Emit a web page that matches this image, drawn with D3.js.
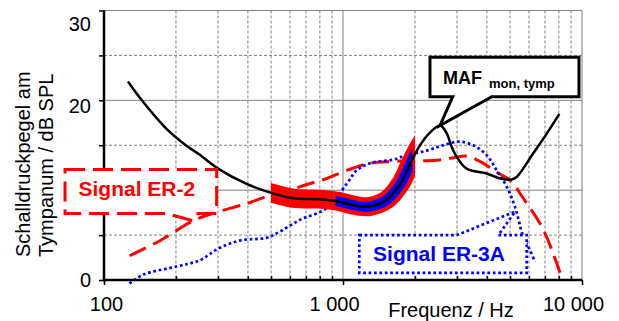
<!DOCTYPE html>
<html>
<head>
<meta charset="utf-8">
<script src="https://cdn.jsdelivr.net/npm/d3@7"></script>
<style>
  body { margin: 0; background: #fff; }
  svg { display: block; font-family: 'Liberation Sans', Arial, sans-serif; }
</style>
</head>
<body>
<div id="chart"></div>
<script>
// frequency axis (Hz), log scale
const freqMajor = [100, 1000, 10000];
const freqMinor = [200, 300, 400, 500, 600, 700, 800, 900, 2000, 3000, 4000, 5000, 6000, 7000, 8000, 9000];
const freqLabels = ['100', '1 000', '10 000'];

// level axis (dB SPL); the 10 label is hidden behind the ER-2 box in the original
const levelTicks = [0, 5, 10, 15, 20, 25, 30];
const levelMajor = [10, 20];
const levelMinor = [5, 15, 25];
const levelLabels = [0, 20, 30];

// MAF mon,tymp (black)
const mafFreq = [126, 144, 180, 220, 250, 300, 395, 500, 620, 800, 930, 1180, 1300, 1520, 1730, 1900, 2000, 2100, 2310, 2550, 2720, 2850, 2990, 3290, 3990, 4540, 5080, 5340, 6250, 7120, 8040];
const mafLevel = [22.1, 20.0, 17.0, 15.0, 14.0, 12.4, 10.7, 9.7, 9.1, 9.0, 8.8, 8.2, 8.2, 8.9, 10.6, 12.8, 14.0, 15.0, 16.4, 17.2, 16.3, 14.8, 13.7, 12.4, 11.85, 11.3, 11.2, 11.5, 14.1, 16.3, 18.5];

// Signal ER-2 (red dashed)
const er2Freq = [128, 172, 236, 301, 395, 479, 600, 700, 855, 1036, 1297, 1624, 1970, 2387, 2894, 3293, 3805, 4396, 5000, 5680, 6890, 8090];
const er2Level = [2.7, 4.4, 6.6, 7.6, 8.5, 9.3, 10.0, 10.6, 11.3, 12.2, 13.0, 13.2, 13.3, 13.3, 13.6, 13.8, 13.1, 12.0, 11.1, 9.1, 5.6, 0.8];

// Signal ER-3A (blue dotted)
const er3Freq = [128, 146, 201, 252, 301, 371, 479, 545, 661, 855, 1036, 1141, 1297, 1624, 1848, 2240, 2630, 3040, 3510, 3990, 4400, 4840, 5250, 5680, 6060, 6360];
const er3Level = [-0.4, 0.6, 1.5, 2.2, 3.5, 4.4, 4.7, 5.4, 6.7, 8.0, 10.7, 12.2, 13.0, 13.4, 13.9, 14.4, 15.0, 15.4, 15.0, 13.9, 12.2, 10.4, 8.1, 4.8, 3.3, 2.0];

// frequency ranges of the highlighted bands on the MAF curve
const redBand = [500, 2000];
const blueBand = [930, 1950];

const W = 619, H = 321;

const svg = d3.select('#chart').append('svg')
  .attr('width', W)
  .attr('height', H);

const x = d3.scaleLog().domain([100, 10000]).range([104, 582]);
const y = d3.scaleLinear().domain([0, 30]).range([280, 10.5]);

const grey = '#808080';

// Grid
const grid = svg.append('g');
grid.selectAll('.vmin').data(freqMinor).enter().append('line')
  .attr('x1', d => x(d)).attr('x2', d => x(d))
  .attr('y1', y(30)).attr('y2', y(0))
  .attr('stroke', grey).attr('stroke-width', 1).attr('stroke-dasharray', '3,2');
grid.selectAll('.hmin').data(levelMinor).enter().append('line')
  .attr('x1', x(100)).attr('x2', x(10000))
  .attr('y1', d => y(d)).attr('y2', d => y(d))
  .attr('stroke', grey).attr('stroke-width', 1).attr('stroke-dasharray', '3,2');
grid.selectAll('.vmaj').data(freqMajor.slice(1)).enter().append('line')
  .attr('x1', d => x(d)).attr('x2', d => x(d))
  .attr('y1', y(30)).attr('y2', y(0))
  .attr('stroke', grey).attr('stroke-width', 1);
grid.selectAll('.hmaj').data(levelMajor.concat([30])).enter().append('line')
  .attr('x1', x(100)).attr('x2', x(10000))
  .attr('y1', d => y(d)).attr('y2', d => y(d))
  .attr('stroke', grey).attr('stroke-width', 1);

const zip = (fs, vs) => fs.map((f, i) => [f, vs[i]]);
const line = d3.line()
  .x(d => x(d[0]))
  .y(d => y(d[1]))
  .curve(d3.curveCatmullRom.alpha(0.5));

const maf = zip(mafFreq, mafLevel);

// Signal ER-2
svg.append('path')
  .attr('d', line(zip(er2Freq, er2Level)))
  .attr('fill', 'none')
  .attr('stroke', '#ff0000')
  .attr('stroke-width', 3)
  .attr('stroke-dasharray', '18,8');

// Signal ER-3A
svg.append('path')
  .attr('d', line(zip(er3Freq, er3Level)))
  .attr('fill', 'none')
  .attr('stroke', '#0000ff')
  .attr('stroke-width', 2.7)
  .attr('stroke-dasharray', '2.7,2.7');

// Bands along the MAF curve, cut to their frequency range
const defs = svg.append('defs');
[['clip-red', redBand], ['clip-blue', blueBand]].forEach(([id, r]) => {
  defs.append('clipPath').attr('id', id)
    .append('rect')
    .attr('x', x(r[0])).attr('width', x(r[1]) - x(r[0]))
    .attr('y', 0).attr('height', H);
});

svg.append('path')
  .attr('d', line(maf))
  .attr('clip-path', 'url(#clip-red)')
  .attr('fill', 'none')
  .attr('stroke', '#ff0000')
  .attr('stroke-width', 19);

svg.append('path')
  .attr('d', line(maf))
  .attr('clip-path', 'url(#clip-blue)')
  .attr('fill', 'none')
  .attr('stroke', '#0000ff')
  .attr('stroke-width', 10);

// MAF
svg.append('path')
  .attr('d', line(maf))
  .attr('fill', 'none')
  .attr('stroke', '#000')
  .attr('stroke-width', 2.5);

// Axes
const labelFont = 20;

const xAxis = svg.append('g')
  .attr('transform', `translate(0,${y(0)})`)
  .call(d3.axisBottom(x).tickValues(freqMajor).tickSize(5).tickPadding(12)
    .tickFormat((d, i) => freqLabels[i]));
xAxis.select('.domain').remove();
xAxis.selectAll('.tick line').attr('stroke', '#000').attr('stroke-width', 1.5);
xAxis.selectAll('text')
  .attr('fill', '#000')
  .style('font-size', labelFont + 'px')
  .attr('dx', d => d === 100 ? 2 : -9);

const xMinor = svg.append('g')
  .attr('transform', `translate(0,${y(0)})`)
  .call(d3.axisBottom(x).tickValues(freqMinor).tickSize(-4).tickFormat(''));
xMinor.select('.domain').remove();
xMinor.selectAll('.tick line').attr('stroke', '#000').attr('stroke-width', 1.5);

const yAxis = svg.append('g')
  .attr('transform', `translate(${x(100)},0)`)
  .call(d3.axisLeft(y).tickValues(levelTicks).tickSize(5).tickPadding(8)
    .tickFormat(d => levelLabels.includes(d) ? d : ''));
yAxis.select('.domain').remove();
yAxis.selectAll('.tick line').attr('stroke', '#000').attr('stroke-width', 1.5);
yAxis.selectAll('text')
  .attr('fill', '#000')
  .style('font-size', labelFont + 'px')
  .attr('transform', d => `translate(0,${[0, 3, 6, 13.5][d / 10] || 0})`);

// thick axis lines
svg.append('line')
  .attr('x1', x(100)).attr('x2', x(100))
  .attr('y1', y(30)).attr('y2', y(0) + 1.2)
  .attr('stroke', '#000').attr('stroke-width', 2.5);
svg.append('line')
  .attr('x1', x(100) - 1.2).attr('x2', x(10000))
  .attr('y1', y(0)).attr('y2', y(0))
  .attr('stroke', '#000').attr('stroke-width', 2.5);

// Axis titles
svg.append('text')
  .attr('x', 451).attr('y', 317)
  .attr('text-anchor', 'middle')
  .style('font-size', labelFont + 'px')
  .text('Frequenz / Hz');

const yTitle = svg.append('text')
  .attr('transform', 'translate(30,257) rotate(-90)')
  .attr('text-anchor', 'start')
  .style('font-size', labelFont + 'px');
yTitle.append('tspan').attr('x', 0).attr('dy', 0).text('Schalldruckpegel am');
yTitle.append('tspan').attr('x', 0).attr('dy', 23).text('Tympanum / dB SPL');

// Callout boxes, in data coordinates
const callouts = [
  {
    box: [68.7, 296, 12.3, 7.4], side: 'bottom', base: [183, 247], tip: [236, 6.6],
    stroke: '#ff0000', dash: '20,8', width: 3,
    text: 'Signal ER-2'
  },
  {
    box: [1170, 5870, 5.0, 0.8], side: 'top', base: [2990, 4467], tip: [5245, 7.6],
    stroke: '#0000ff', dash: '2.7,2.7', width: 2.7,
    text: 'Signal ER-3A'
  },
  {
    box: [2312, 9714, 24.8, 20.4], side: 'bottom', base: [2877, 4190], tip: [2546, 17.2],
    stroke: '#000', dash: null, width: 3,
    text: null
  }
];

callouts.forEach(c => {
  const x0 = x(c.box[0]), x1 = x(c.box[1]);
  const y0 = y(c.box[2]), y1 = y(c.box[3]);
  const bl = x(c.base[0]), br = x(c.base[1]);
  const tx = x(c.tip[0]), ty = y(c.tip[1]);
  const p = d3.path();
  if (c.side === 'top') {
    p.moveTo(x0, y0); p.lineTo(bl, y0); p.lineTo(tx, ty); p.lineTo(br, y0);
    p.lineTo(x1, y0); p.lineTo(x1, y1); p.lineTo(x0, y1); p.closePath();
  } else {
    p.moveTo(x0, y0); p.lineTo(x1, y0); p.lineTo(x1, y1); p.lineTo(br, y1);
    p.lineTo(tx, ty); p.lineTo(bl, y1); p.lineTo(x0, y1); p.closePath();
  }
  svg.append('path')
    .attr('d', p.toString())
    .attr('fill', '#fff')
    .attr('stroke', c.stroke)
    .attr('stroke-width', c.width)
    .attr('stroke-dasharray', c.dash)
    .attr('stroke-linejoin', 'miter');
  if (c.text) {
    svg.append('text')
      .attr('x', (x0 + x1) / 2 - 4)
      .attr('y', y0 + 26)
      .attr('text-anchor', 'middle')
      .attr('fill', c.stroke)
      .style('font-size', '21px')
      .style('font-weight', 'bold')
      .text(c.text);
  }
});

// MAF label with subscript
const mafBox = callouts[2];
const maf_t = svg.append('text')
  .attr('x', x(mafBox.box[0]) + 13)
  .attr('y', y(mafBox.box[2]) + 26.5)
  .style('font-weight', 'bold');
maf_t.append('tspan').style('font-size', '18px').text('MAF');
maf_t.append('tspan').attr('dx', 7).attr('dy', 4).style('font-size', '13px').text('mon, tymp');
</script>
</body>
</html>
